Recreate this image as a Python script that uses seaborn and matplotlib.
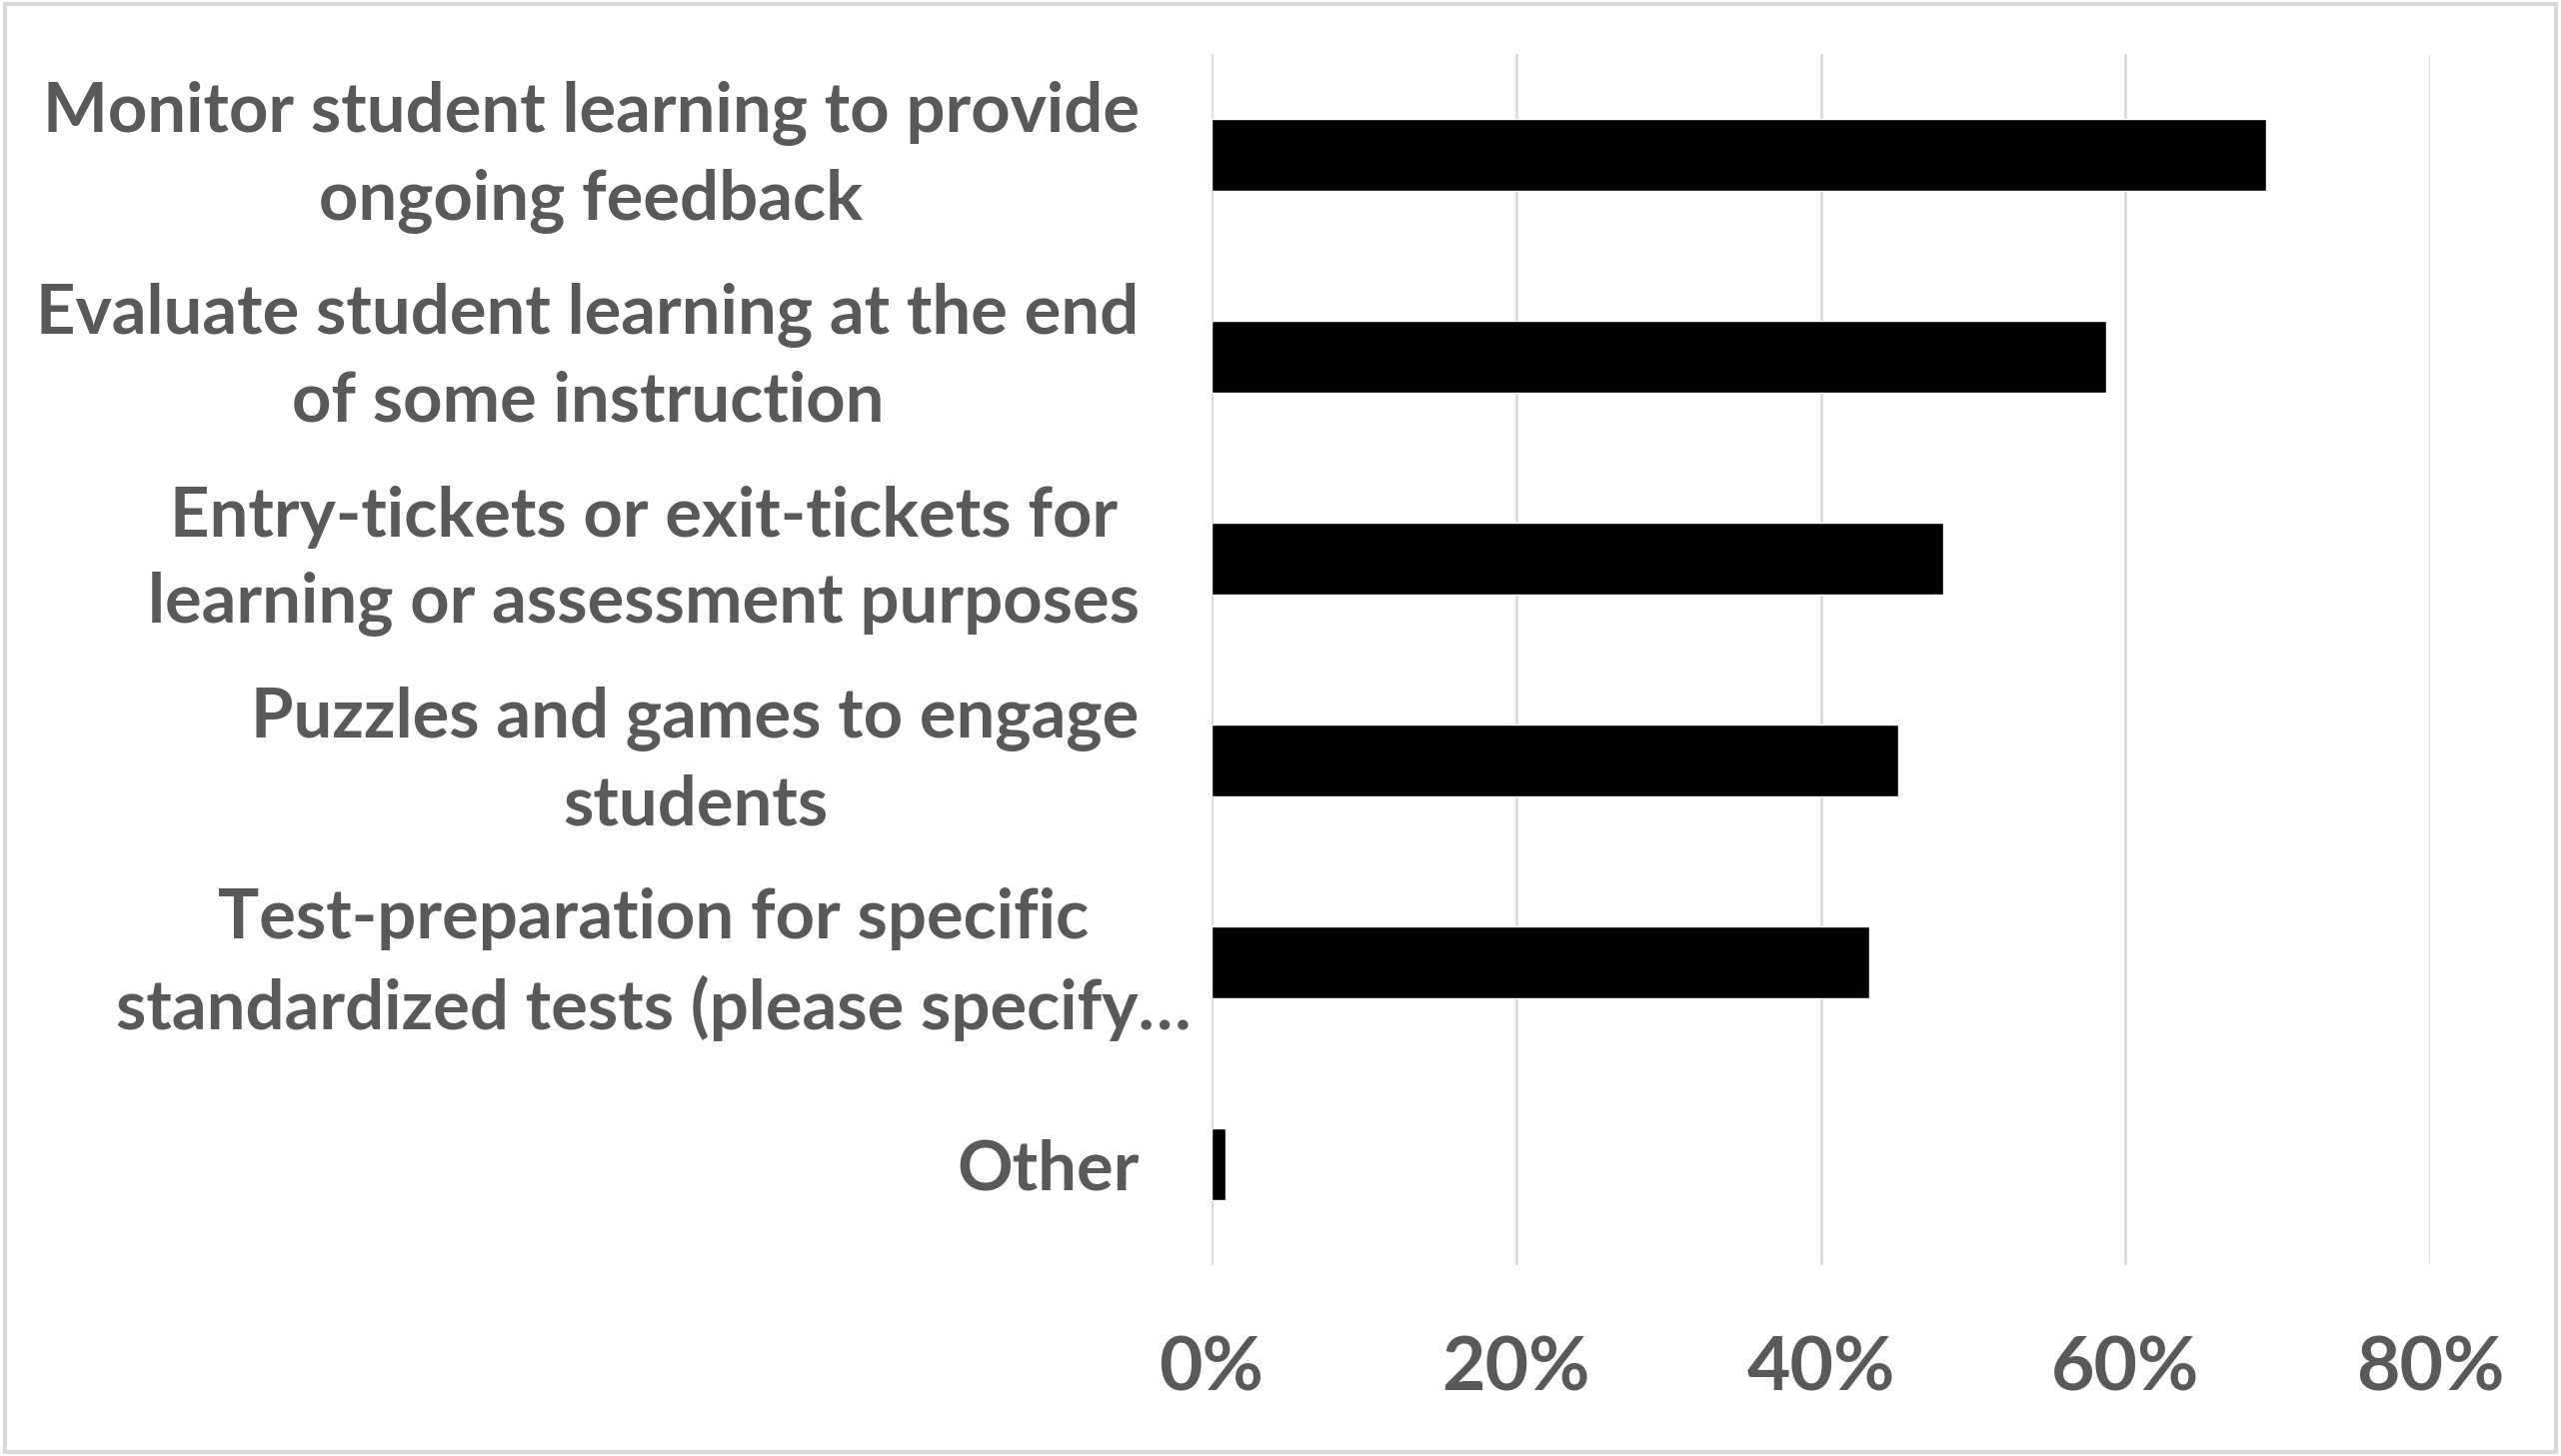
import matplotlib
matplotlib.use("Agg")
import matplotlib.pyplot as plt
import matplotlib.transforms as mtransforms
import seaborn as sns
import pandas as pd
from matplotlib.patches import Rectangle
from matplotlib.ticker import PercentFormatter

# data
categories = [
    "Monitor student learning to provide\nongoing feedback",
    "Evaluate student learning at the end\nof some instruction",
    "Entry-tickets or exit-tickets for\nlearning or assessment purposes",
    "Puzzles and games to engage\nstudents",
    "Test-preparation for specific\nstandardized tests (please specify\u2026",
    "Other",
]
shares = [69.2, 58.7, 48.0, 45.1, 43.2, 0.9]
xticks = [0, 20, 40, 60, 80]

df = pd.DataFrame({"category": categories, "share": shares})

sns.set_theme(style="white")
plt.rcParams["font.family"] = ["Lato", "DejaVu Sans"]

fig = plt.figure(figsize=(25.62, 14.57), dpi=100)
ax = fig.add_axes([0.473, 0.131, 0.476, 0.832])

sns.barplot(data=df, x="share", y="category", color="black", width=0.36,
            saturation=1, ax=ax)

ax.set_xlim(0, 80)
ax.set_ylim(5.5, -0.5)
ax.set_xticks(xticks)
ax.xaxis.set_major_formatter(PercentFormatter(decimals=0))
ax.grid(axis="x", color="#d9d9d9", linewidth=2)
ax.set_axisbelow(True)
for s in ["top", "right", "bottom", "left"]:
    ax.spines[s].set_visible(False)
ax.set_xlabel("")
ax.set_ylabel("")

ax.tick_params(axis="y", length=0, pad=52)
ax.tick_params(axis="x", length=0, pad=50)
for lab in ax.get_yticklabels():
    lab.set_fontsize(49.5)
    lab.set_fontweight("bold")
    lab.set_color("#595959")
    lab.set_multialignment("center")
    lab.set_linespacing(1.45)
    dx = 0
    dy = 0.16 if "\n" in lab.get_text() else 0
    if lab.get_text().startswith("Test-preparation"):
        # excel lets the truncated label run past the others
        dx = 0.52
    if dx or dy:
        lab.set_transform(lab.get_transform() +
                          mtransforms.ScaledTranslation(dx, dy, fig.dpi_scale_trans))
for lab in ax.get_xticklabels():
    lab.set_fontsize(54)
    lab.set_fontweight("bold")
    lab.set_color("#595959")

# light frame around the chart area
fig.patches.append(Rectangle((0.002, 0.003), 0.996, 0.994, transform=fig.transFigure,
                             fill=False, edgecolor="#d9d9d9", linewidth=3))

fig.savefig("out.png", dpi=100, facecolor="white")
